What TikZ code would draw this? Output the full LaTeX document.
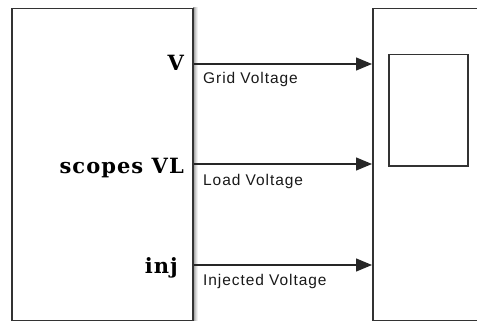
\documentclass[tikz,border=0pt]{standalone}
\usepackage{fontspec}
\setmainfont{Liberation Sans}
\newfontfamily\portfont[LetterSpace=5]{DejaVu Serif}
\newfontfamily\sigfont[LetterSpace=6]{Liberation Sans}
\usetikzlibrary{arrows.meta,calc}
\begin{document}
\begin{tikzpicture}[x=1pt,y=-1pt,
  blk/.style={draw=black!80,line width=1.5pt,fill=white,inner sep=0pt},
  sig/.style={draw=black!85,line width=1.3pt,-{Triangle[length=16pt,width=13pt]}},
  portlbl/.style={anchor=base east,inner sep=0pt,font=\portfont\bfseries\fontsize{21}{23}\selectfont},
  siglbl/.style={anchor=base west,inner sep=0pt,text=black!90,font=\sigfont\fontsize{15.5}{17}\selectfont}]
\useasboundingbox (0,0) rectangle (477,321);
\clip (0,0) rectangle (477,321);
% shadow of the source block
\foreach \i/\o in {1/45,2/32,3/22,4/13,5/6}
  \fill[black,opacity=\o/100] (192+\i-0.5,7) rectangle (192+\i+0.5,321);
\node[blk,minimum width=181pt,minimum height=312pt,anchor=north west] (src) at (11,8) {};
\node[blk,minimum width=130pt,minimum height=312pt,anchor=north west] (dst) at (372,8) {};
\node[blk,minimum width=79pt,minimum height=111pt,anchor=north west] (disp) at (388,54) {};
% ports
\coordinate (o1) at (src.east |- 0,64);
\coordinate (o2) at (src.east |- 0,164);
\coordinate (o3) at (src.east |- 0,265);
\coordinate (i1) at (dst.west |- o1);
\coordinate (i2) at (dst.west |- o2);
\coordinate (i3) at (dst.west |- o3);
\draw[sig] (o1) -- (i1);
\draw[sig] (o2) -- (i2);
\draw[sig] (o3) -- (i3);
\node[portlbl] (l1) at (184,71) {V};
\node[portlbl] (l2) at (184,173) {scopes VL};
\node[portlbl] (l3) at (178,273) {inj};
\node[siglbl] (s1) at (203,84) {Grid Voltage};
\node[siglbl] (s2) at (203,185) {Load Voltage};
\node[siglbl] (s3) at (203,285) {Injected Voltage};
\end{tikzpicture}
\end{document}
